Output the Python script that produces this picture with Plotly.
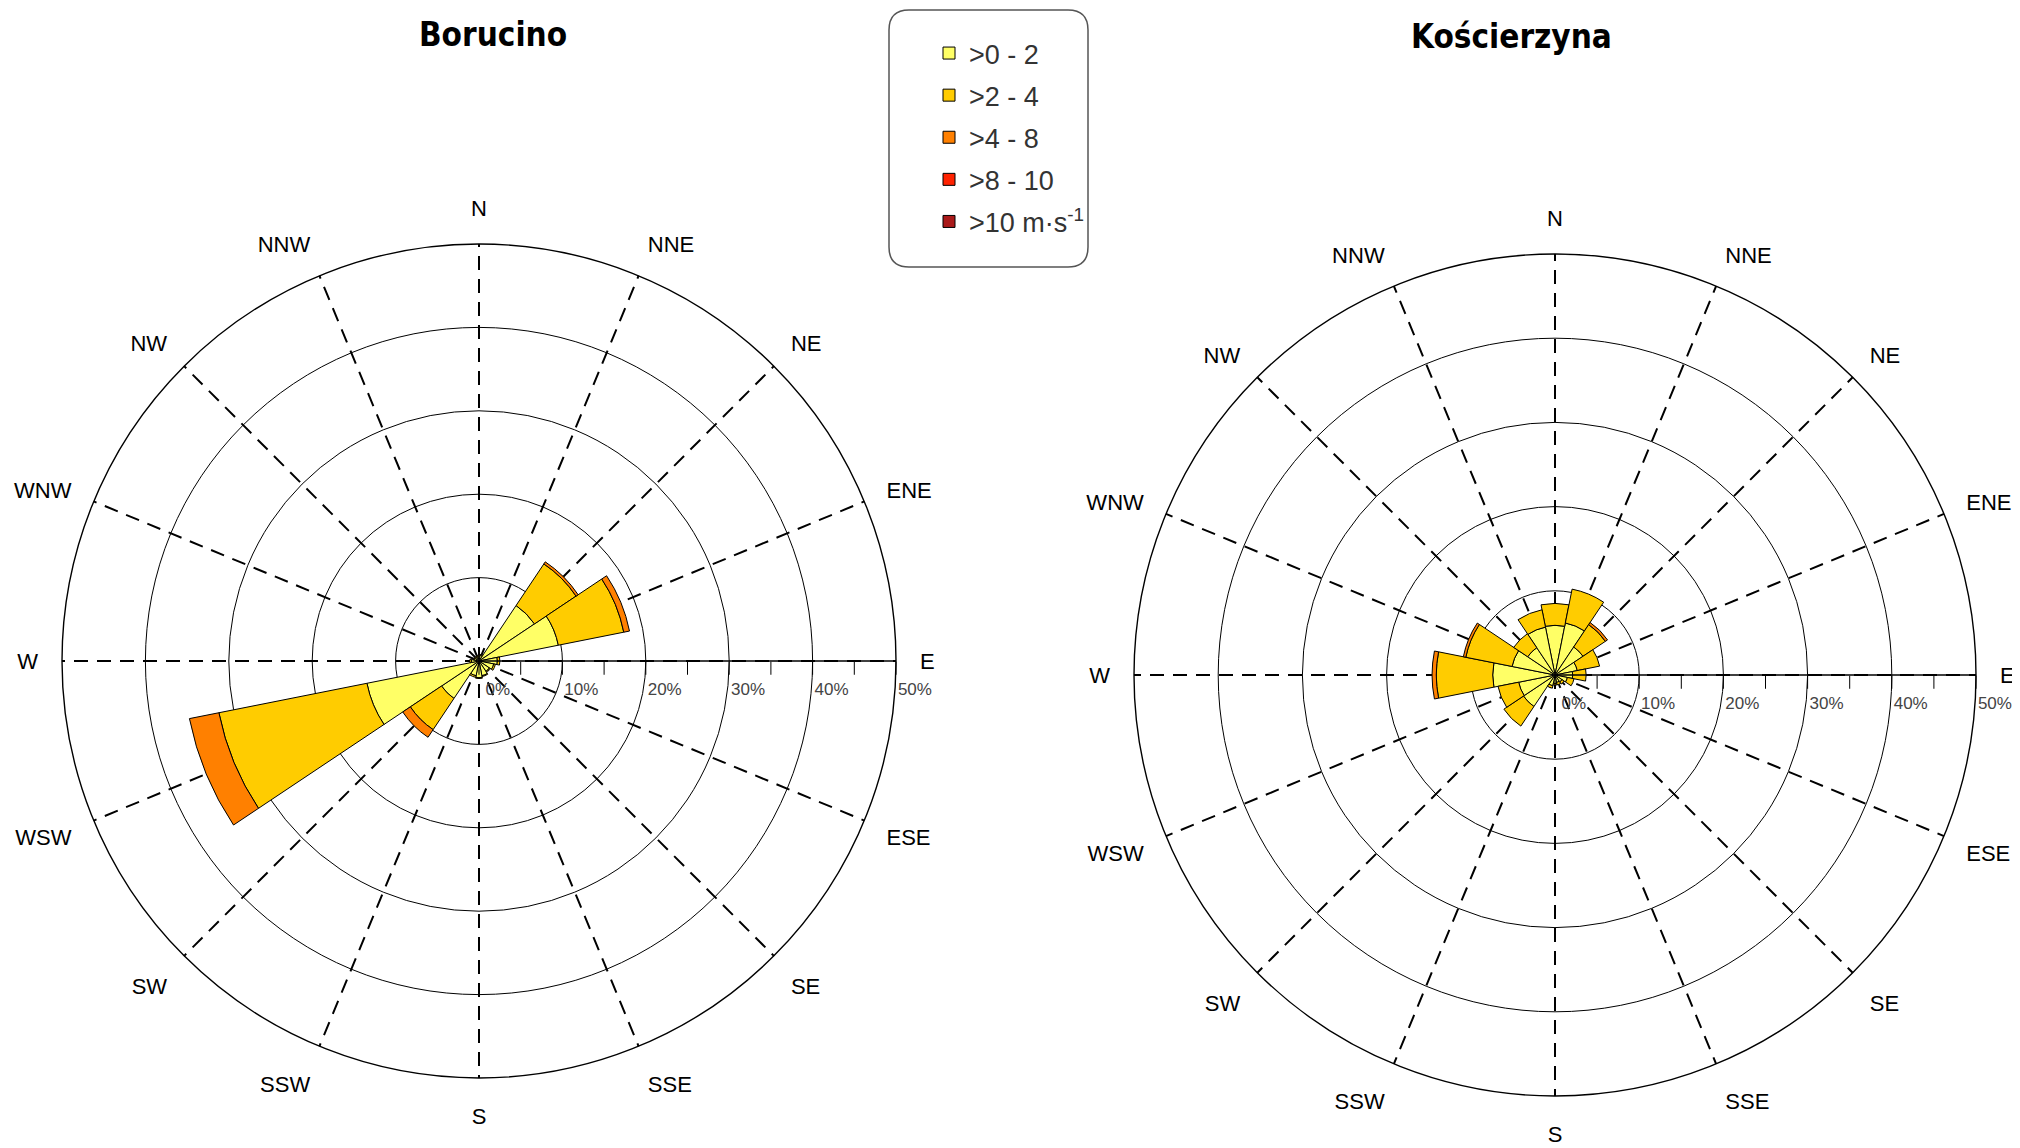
import plotly.graph_objects as go

# wind directions (compass order, clockwise from N)
directions = ["N", "NNE", "NE", "ENE", "E", "ESE", "SE", "SSE",
              "S", "SSW", "SW", "WSW", "W", "WNW", "NW", "NNW"]

# speed classes
classes = [">0 - 2", ">2 - 4", ">4 - 8", ">8 - 10", ">10 m·s<sup>-1</sup>"]
class_colors = ["#FFFF66", "#FFCC00", "#FF8000", "#FF2200", "#AA1A1A"]

borucino_0_2 = [0.6, 0.7, 8.0, 9.7, 2.2, 1.8, 1.5, 1.8, 2.0, 1.8, 5.4, 13.7, 0.9, 0.6, 0.5, 0.5]
borucino_2_4 = [0.1, 0.1, 6.0, 8.0, 0.3, 0.2, 0.1, 0.1, 0.1, 0.2, 4.5, 18.1, 0.2, 0.1, 0.1, 0.1]
borucino_4_8 = [0, 0, 0.3, 0.7, 0, 0, 0, 0, 0, 0, 1.1, 3.6, 0, 0, 0, 0]
borucino_8_10 = [0] * 16
borucino_10 = [0] * 16

koscierzyna_0_2 = [5.9, 6.3, 4.0, 2.7, 2.1, 1.5, 1.0, 0.9, 1.0, 1.3, 4.5, 4.4, 7.4, 5.2, 3.9, 5.8]
koscierzyna_2_4 = [2.6, 4.1, 3.2, 2.7, 1.6, 0.8, 0.3, 0.3, 0.2, 0.3, 2.8, 2.5, 6.7, 5.6, 2.0, 2.1]
koscierzyna_4_8 = [0, 0, 0.3, 0, 0, 0, 0, 0, 0, 0, 0, 0, 0.5, 0.3, 0, 0]
koscierzyna_8_10 = [0] * 16
koscierzyna_10 = [0] * 16

radial_ticks = [0, 5, 10, 15, 20, 25, 30, 35, 40, 45, 50]
radial_labels = ["0%", "", "10%", "", "20%", "", "30%", "", "40%", "", "50%"]

stations = [
    ("Borucino", "polar", "polar3",
     [borucino_0_2, borucino_2_4, borucino_4_8, borucino_8_10, borucino_10]),
    ("Kościerzyna", "polar2", "polar4",
     [koscierzyna_0_2, koscierzyna_2_4, koscierzyna_4_8, koscierzyna_8_10, koscierzyna_10]),
]

W, H, OFF = 2020, 1148, 8  # page body margin shifts the figure by 8px


def px(x):
    return (x - OFF) / W


def py(y):
    return 1 - (y - OFF) / H


fig = go.Figure()

for i, (name, sub, tick_sub, series) in enumerate(stations):
    for cls, col, vals in zip(classes, class_colors, series):
        fig.add_trace(go.Barpolar(
            r=vals, theta=directions, name=cls, subplot=sub,
            marker=dict(color=col, line=dict(color="black", width=1)),
            legendgroup=cls, showlegend=(i == 0),
        ))
    # empty trace so the tick overlay subplot is drawn
    fig.add_trace(go.Barpolar(r=[0], theta=["N"], subplot=tick_sub, showlegend=False,
                              hoverinfo="skip", marker=dict(line=dict(width=0))))

# rose centres / radii in page pixels
domains = {
    "B": dict(x=[px(479 - 417), px(479 + 417)], y=[py(661 + 417), py(661 - 417)]),
    "K": dict(x=[px(1555 - 421), px(1555 + 421)], y=[py(675 + 421), py(675 - 421)]),
}

nbsp = "\u00a0" * 8


def main_polar(dom):
    return dict(
        domain=dom, bgcolor="white", bargap=0, barmode="stack",
        radialaxis=dict(range=[0, 50], tickvals=[10, 20, 30, 40, 50], showticklabels=False,
                        ticks="", showline=False, gridcolor="black", gridwidth=1.4,
                        layer="below traces"),
        angularaxis=dict(type="category", categoryarray=directions, direction="clockwise",
                         rotation=90, showline=True, linecolor="black", linewidth=1.4,
                         gridcolor="black", gridwidth=1.8, griddash="14px,9px",
                         ticks="outside", ticklen=19, tickcolor="rgba(0,0,0,0)",
                         tickfont=dict(family="Liberation Sans, Arial", size=22, color="black"),
                         layer="below traces"),
    )


def tick_polar(dom):
    return dict(
        domain=dom, bgcolor="rgba(0,0,0,0)",
        radialaxis=dict(range=[0, 50], angle=0, tickangle=0, tickvals=radial_ticks,
                        ticktext=[nbsp + t if t else t for t in radial_labels],
                        ticks="outside", ticklen=13, tickcolor="black", tickwidth=1.3,
                        showline=True, linecolor="black", linewidth=1.5, showgrid=False,
                        tickfont=dict(family="Liberation Sans, Arial", size=17, color="#444")),
        angularaxis=dict(visible=False, direction="clockwise", rotation=90),
    )


r = 20  # corner radius of legend frame, px
x0, x1, y0, y1 = 889, 1088, 10, 267
frame = (f"M {px(x0 + r)},{py(y0)} L {px(x1 - r)},{py(y0)} Q {px(x1)},{py(y0)} {px(x1)},{py(y0 + r)} "
         f"L {px(x1)},{py(y1 - r)} Q {px(x1)},{py(y1)} {px(x1 - r)},{py(y1)} "
         f"L {px(x0 + r)},{py(y1)} Q {px(x0)},{py(y1)} {px(x0)},{py(y1 - r)} "
         f"L {px(x0)},{py(y0 + r)} Q {px(x0)},{py(y0)} {px(x0 + r)},{py(y0)} Z")

title_font = dict(family="DejaVu Sans Condensed, Liberation Sans Narrow", size=33,
                  color="black", weight="bold")

fig.update_layout(
    width=W, height=H,
    paper_bgcolor="white", plot_bgcolor="white",
    margin=dict(l=0, r=0, t=0, b=0),
    polar=main_polar(domains["B"]),
    polar2=main_polar(domains["K"]),
    polar3=tick_polar(domains["B"]),
    polar4=tick_polar(domains["K"]),
    legend=dict(x=px(929), y=py(29), xanchor="left", yanchor="top",
                bgcolor="rgba(0,0,0,0)", tracegroupgap=4,
                font=dict(family="Liberation Sans, Arial", size=27, color="#333")),
    shapes=[dict(type="path", xref="paper", yref="paper", path=frame,
                 line=dict(color="#555", width=1.5), fillcolor="rgba(0,0,0,0)", layer="above")],
    annotations=[
        dict(text="Borucino", x=px(493), y=py(35), xref="paper", yref="paper",
             showarrow=False, xanchor="center", yanchor="middle", font=title_font),
        dict(text="Kościerzyna", x=px(1511), y=py(36), xref="paper", yref="paper",
             showarrow=False, xanchor="center", yanchor="middle", font=title_font),
    ],
)

fig.write_html("out.html")
